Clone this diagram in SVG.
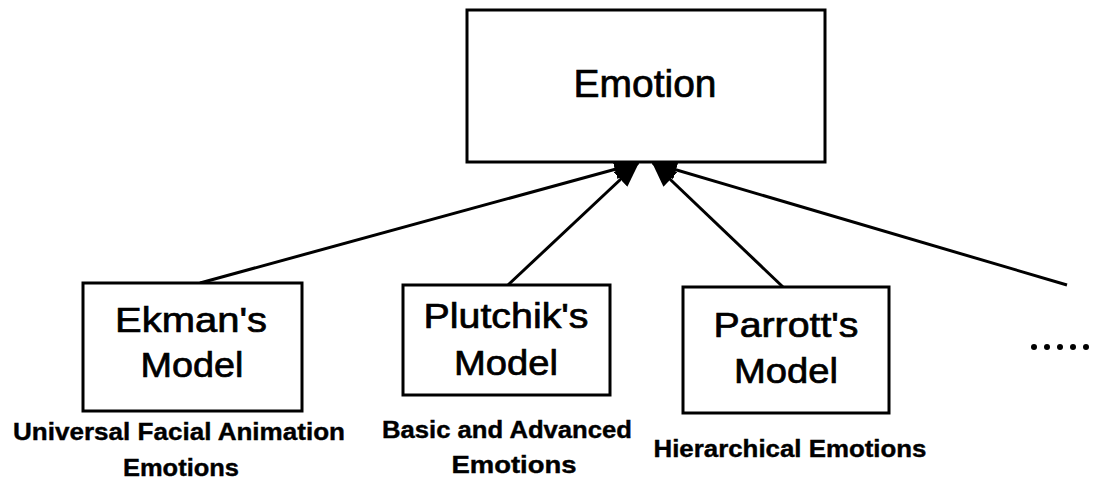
<svg xmlns="http://www.w3.org/2000/svg" width="1094" height="480" viewBox="0 0 1094 480">
  <style>
    .box { fill: #ffffff; stroke: #000000; stroke-width: 3; }
    .node-label { font-family: "Liberation Sans", Arial, sans-serif; font-size: 35px; fill: #000000; stroke: #000000; stroke-width: 0.7; text-anchor: middle; }
    .title { font-size: 38px; }
    .caption { font-family: "Liberation Sans", Arial, sans-serif; font-size: 24px; font-weight: bold; fill: #000000; stroke: #000000; stroke-width: 0.4; text-anchor: middle; }
    .link { stroke: #000000; stroke-width: 3; fill: none; marker-end: url(#head); }
  </style>
  <defs>
    <marker id="head" markerUnits="userSpaceOnUse" markerWidth="26" markerHeight="20" refX="24" refY="10" orient="auto">
      <path d="M0,0 L26,10 L0,20 Z" fill="#000000"/>
    </marker>
  </defs>

  <rect width="1094" height="480" fill="#ffffff"/>

  <!-- connectors: each model points up to the Emotion node -->
  <g id="connectors">
    <line class="link" x1="200" y1="283" x2="638" y2="163"/>
    <line class="link" x1="508" y1="285" x2="638" y2="163"/>
    <line class="link" x1="783" y1="287" x2="653" y2="163"/>
    <line class="link" x1="1067" y1="285" x2="653" y2="163"/>
  </g>

  <g id="emotion">
    <rect class="box" x="467" y="10" width="358" height="152"/>
    <text class="node-label title" x="645" y="97" textLength="143" lengthAdjust="spacingAndGlyphs">Emotion</text>
  </g>

  <g id="ekman">
    <rect class="box" x="83" y="283" width="219" height="128"/>
    <text class="node-label" x="191" y="332" textLength="152" lengthAdjust="spacingAndGlyphs">Ekman's</text>
    <text class="node-label" x="192" y="377" textLength="103" lengthAdjust="spacingAndGlyphs">Model</text>
    <text class="caption" x="179" y="440" textLength="332" lengthAdjust="spacingAndGlyphs">Universal Facial Animation</text>
    <text class="caption" x="181" y="476" textLength="116" lengthAdjust="spacingAndGlyphs">Emotions</text>
  </g>

  <g id="plutchik">
    <rect class="box" x="403" y="285" width="207" height="110"/>
    <text class="node-label" x="506" y="328" textLength="165" lengthAdjust="spacingAndGlyphs">Plutchik's</text>
    <text class="node-label" x="506" y="375" textLength="104" lengthAdjust="spacingAndGlyphs">Model</text>
    <text class="caption" x="507" y="438" textLength="250" lengthAdjust="spacingAndGlyphs">Basic and Advanced</text>
    <text class="caption" x="514" y="473" textLength="125" lengthAdjust="spacingAndGlyphs">Emotions</text>
  </g>

  <g id="parrott">
    <rect class="box" x="683" y="287" width="206" height="126"/>
    <text class="node-label" x="786" y="337" textLength="145" lengthAdjust="spacingAndGlyphs">Parrott's</text>
    <text class="node-label" x="786" y="383" textLength="104" lengthAdjust="spacingAndGlyphs">Model</text>
    <text class="caption" x="790" y="457" textLength="273" lengthAdjust="spacingAndGlyphs">Hierarchical Emotions</text>
  </g>

  <!-- further models, elided -->
  <g id="more" fill="#000000">
    <circle cx="1034" cy="347" r="3"/>
    <circle cx="1047" cy="347" r="3"/>
    <circle cx="1060" cy="347" r="3"/>
    <circle cx="1073" cy="347" r="3"/>
    <circle cx="1086" cy="347" r="3"/>
  </g>
</svg>
